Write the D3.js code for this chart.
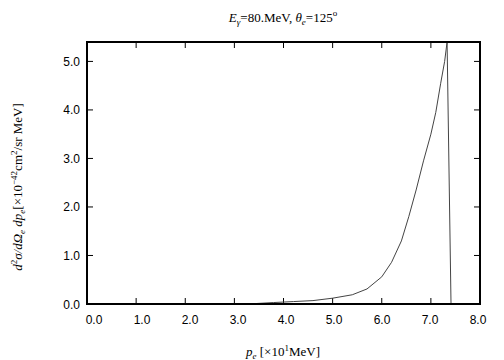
<!DOCTYPE html>
<html><head><meta charset="utf-8">
<script src="https://cdn.jsdelivr.net/npm/d3@7"></script>
<style>body{margin:0;background:#fff}</style>
</head><body>
<svg id="c" width="504" height="360"></svg>
<script>
const pe = [3.45, 3.8, 4.2, 4.6, 5.0, 5.4, 5.7, 6.0, 6.2, 6.4, 6.55, 6.7, 6.85, 7.0, 7.1, 7.2, 7.28, 7.33, 7.41];
const xsec = [0.01, 0.03, 0.05, 0.07, 0.12, 0.19, 0.31, 0.56, 0.86, 1.3, 1.8, 2.35, 2.95, 3.5, 3.95, 4.55, 5.0, 5.4, 0.0];
const xTicks = [0,1,2,3,4,5,6,7,8];
const yTicks = [0,1,2,3,4,5];

const svg = d3.select("#c");
const L=87, R=480, T=42, B=304;
const x = d3.scaleLinear().domain([0,8]).range([L,R]);
const xLab = d3.scaleLinear().domain([0,8]).range([94,478]);
const y = d3.scaleLinear().domain([0,5.4]).range([B,T]);
const tl = 6;
const sans = "Liberation Sans, Arial, sans-serif";
const g = svg.append("g");
xTicks.forEach(v=>{
  g.append("line").attr("x1",x(v)).attr("x2",x(v)).attr("y1",B).attr("y2",B-tl).attr("stroke","#000").attr("stroke-width",1);
  g.append("line").attr("x1",x(v)).attr("x2",x(v)).attr("y1",T).attr("y2",T+tl).attr("stroke","#000").attr("stroke-width",1);
  g.append("text").attr("x",xLab(v)).attr("y",324).attr("text-anchor","middle")
   .attr("font-family",sans).attr("font-size",12).text(v.toFixed(1));
});
yTicks.forEach(v=>{
  g.append("line").attr("x1",L).attr("x2",L+tl).attr("y1",y(v)).attr("y2",y(v)).attr("stroke","#000").attr("stroke-width",1);
  g.append("line").attr("x1",R).attr("x2",R-tl).attr("y1",y(v)).attr("y2",y(v)).attr("stroke","#000").attr("stroke-width",1);
  g.append("text").attr("x",80).attr("y",y(v)+4.5).attr("text-anchor","end")
   .attr("font-family",sans).attr("font-size",12).text(v.toFixed(1));
});
const line = d3.line().x((d,i)=>x(pe[i])).y((d,i)=>y(xsec[i]));
svg.append("defs").append("clipPath").attr("id","cp").append("rect").attr("x",L).attr("y",T).attr("width",R-L).attr("height",B-T);
svg.append("path").datum(xsec).attr("d",line).attr("fill","none").attr("stroke","#444").attr("stroke-width",1).attr("clip-path","url(#cp)");
svg.append("rect").attr("x",L).attr("y",T).attr("width",R-L).attr("height",B-T).attr("fill","none").attr("stroke","#000").attr("stroke-width",2);

const serif = "Liberation Serif, Times New Roman, serif";
const t = svg.append("text").attr("x",283).attr("y",22).attr("text-anchor","middle").attr("font-family",serif).attr("font-size",13);
t.append("tspan").attr("font-style","italic").text("E");
t.append("tspan").attr("font-style","italic").attr("font-size",9).attr("dy",3).text("γ");
t.append("tspan").attr("dy",-3).text("=80.MeV,  ");
t.append("tspan").attr("font-style","italic").text("θ");
t.append("tspan").attr("font-style","italic").attr("font-size",9).attr("dy",3).text("e");
t.append("tspan").attr("dy",-3).text("=125");
t.append("tspan").attr("font-size",9).attr("dy",-6).text("o");

const xl = svg.append("text").attr("x",283).attr("y",356).attr("text-anchor","middle").attr("font-family",serif).attr("font-size",13);
xl.append("tspan").attr("font-style","italic").text("p");
xl.append("tspan").attr("font-style","italic").attr("font-size",9).attr("dy",3).text("e");
xl.append("tspan").attr("dy",-3).text(" [×10");
xl.append("tspan").attr("font-size",9).attr("dy",-5).text("1");
xl.append("tspan").attr("dy",5).text("MeV]");

const yl = svg.append("text").attr("transform","translate(22,187) rotate(-90)").attr("text-anchor","middle").attr("font-family",serif).attr("font-size",13);
yl.append("tspan").attr("font-style","italic").text("d");
yl.append("tspan").attr("font-size",9).attr("dy",-5).text("2");
yl.append("tspan").attr("font-style","italic").attr("dy",5).text("σ/dΩ");
yl.append("tspan").attr("font-style","italic").attr("font-size",9).attr("dy",3).text("e");
yl.append("tspan").attr("font-style","italic").attr("dy",-3).text(" dp");
yl.append("tspan").attr("font-style","italic").attr("font-size",9).attr("dy",3).text("e");
yl.append("tspan").attr("dy",-3).text("[×10");
yl.append("tspan").attr("font-size",9).attr("dy",-5).text("−42");
yl.append("tspan").attr("dy",5).text("cm");
yl.append("tspan").attr("font-size",9).attr("dy",-5).text("2");
yl.append("tspan").attr("dy",5).text("/sr MeV]");
</script>
</body></html>
